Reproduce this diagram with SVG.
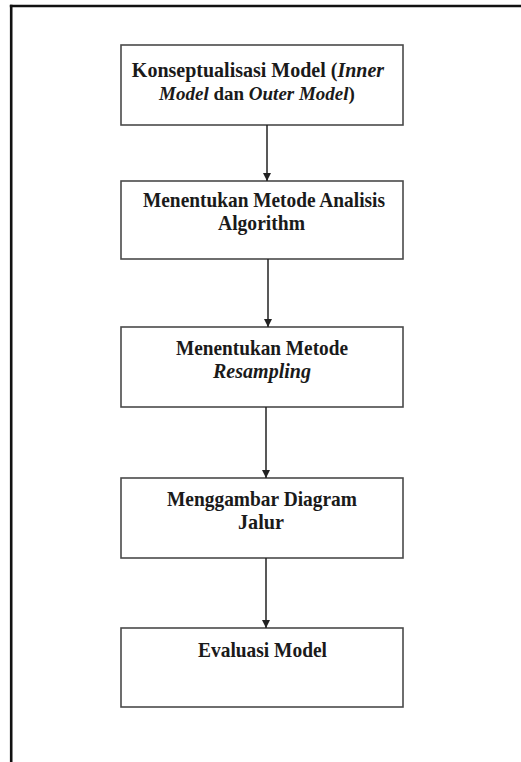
<svg xmlns="http://www.w3.org/2000/svg" width="521" height="762" viewBox="0 0 521 762">
<style>
.box{fill:#fff;stroke:#4a4a4a;stroke-width:1.6}
.t{font-family:"Liberation Serif","Times New Roman",serif;font-weight:bold;font-size:21px;fill:#1a1a1a;text-anchor:middle}
.i{font-style:italic}
.c{stroke:#222;stroke-width:1.5;fill:none}
</style>
<defs>
<marker id="ah" viewBox="0 0 8 10" refX="8" refY="5" markerWidth="8" markerHeight="10" markerUnits="userSpaceOnUse" orient="auto">
<path d="M0,1 L8,5 L0,9 Z" fill="#222"/>
</marker>
</defs>
<rect width="521" height="762" fill="#fff"/>
<g id="frame">
<line x1="9.8" y1="6" x2="521" y2="6" stroke="#111" stroke-width="2.6"/>
<line x1="11.2" y1="4.7" x2="11.2" y2="762" stroke="#111" stroke-width="2.6"/>
</g>
<g id="n1">
<rect class="box" x="121" y="45" width="282" height="80"/>
<text class="t" x="258" y="77" style="font-size:20px">Konseptualisasi Model (<tspan class="i">Inner</tspan></text>
<text class="t" x="257" y="100" style="font-size:19px"><tspan class="i">Model</tspan> dan <tspan class="i">Outer Model</tspan>)</text>
</g>
<g id="n2">
<rect class="box" x="121" y="181" width="282" height="78"/>
<text class="t" x="264" y="207" textLength="242" lengthAdjust="spacingAndGlyphs">Menentukan Metode Analisis</text>
<text class="t" x="261.5" y="230" textLength="87" lengthAdjust="spacingAndGlyphs">Algorithm</text>
</g>
<g id="n3">
<rect class="box" x="121" y="327" width="282" height="80"/>
<text class="t" x="262" y="355" textLength="172" lengthAdjust="spacingAndGlyphs">Menentukan Metode</text>
<text class="t i" x="262" y="378" textLength="98" lengthAdjust="spacingAndGlyphs">Resampling</text>
</g>
<g id="n4">
<rect class="box" x="121" y="478" width="282" height="80"/>
<text class="t" x="262" y="506" textLength="190" lengthAdjust="spacingAndGlyphs">Menggambar Diagram</text>
<text class="t" x="261" y="529" textLength="46" lengthAdjust="spacingAndGlyphs">Jalur</text>
</g>
<g id="n5">
<rect class="box" x="121" y="628" width="282" height="79"/>
<text class="t" x="262.5" y="657" textLength="129" lengthAdjust="spacingAndGlyphs">Evaluasi Model</text>
</g>
<g id="connectors">
<line class="c" x1="267" y1="125" x2="267" y2="181" marker-end="url(#ah)"/>
<line class="c" x1="268" y1="259" x2="268" y2="327" marker-end="url(#ah)"/>
<line class="c" x1="266" y1="407" x2="266" y2="478" marker-end="url(#ah)"/>
<line class="c" x1="266" y1="558" x2="266" y2="628" marker-end="url(#ah)"/>
</g>
</svg>
